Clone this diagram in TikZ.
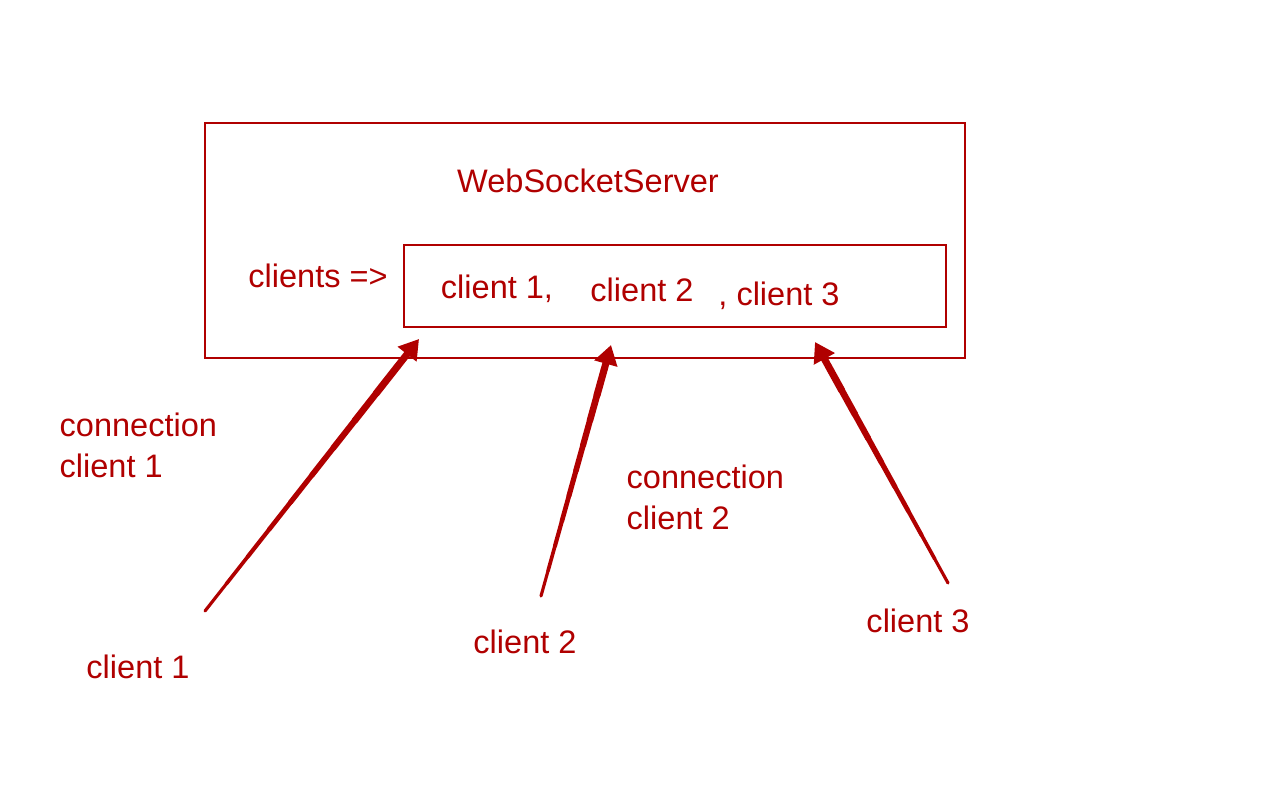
\documentclass[tikz,border=0pt]{standalone}
\usepackage{fontspec}
\setmainfont{Liberation Sans}
\usetikzlibrary{arrows.meta,calc}
\definecolor{darkred}{HTML}{B00000}

\begin{document}
\begin{tikzpicture}[x=0.01cm,y=-0.01cm,
	every node/.style={text=darkred,font=\fontsize{9.25}{11.7}\selectfont,inner sep=0pt},
	frame/.style={draw=darkred,line width=0.6pt},
	taper/.style={draw=darkred,line cap=round},
	tiphead/.style={draw=darkred,line width=2pt,-{Triangle[length=5.5pt,width=6.5pt]}}]
	\useasboundingbox (0,0) rectangle (1268,798);

	\node[frame,minimum width=7.6cm,minimum height=2.35cm] (server) at (585,240.5) {};
	\node[frame,minimum width=5.42cm,minimum height=0.82cm] (list) at (675,286) {};

	\node (title) at (588,181) {WebSocketServer};
	\node (clients) at (318,276) {clients =>};
	\node (l1) at (497,289) {client 1,};
	\node (l2) at (642,290) {client 2};
	\node (l3) at (779,296) {, client 3};

	\node[align=left,anchor=west] (con1) at (59,445) {connection\\client 1};
	\node[align=left,anchor=west] (con2) at (626,497) {connection\\client 2};

	\node (c1) at (138,667) {client 1};
	\node (c2) at (525,642) {client 2};
	\node (c3) at (918,621) {client 3};

	\coordinate (s1) at (205,611);
	\coordinate (s2) at (541,596);
	\coordinate (s3) at (948,583);
	\coordinate (h1) at (419,339);
	\coordinate (h2) at (611,345);
	\coordinate (h3) at (815,342);

	% tapered arrows, thin at the client, thick at the head
	\foreach \k in {1,2,3} {
		\foreach \i in {0,...,8} {
			\draw[taper,line width={0.9pt+0.14pt*\i}]
				($(s\k)!\i/10!(h\k)$) -- ($(s\k)!\i/10+0.1!(h\k)$);
		}
		\draw[tiphead] ($(s\k)!0.9!(h\k)$) -- (h\k);
	}
\end{tikzpicture}
\end{document}
